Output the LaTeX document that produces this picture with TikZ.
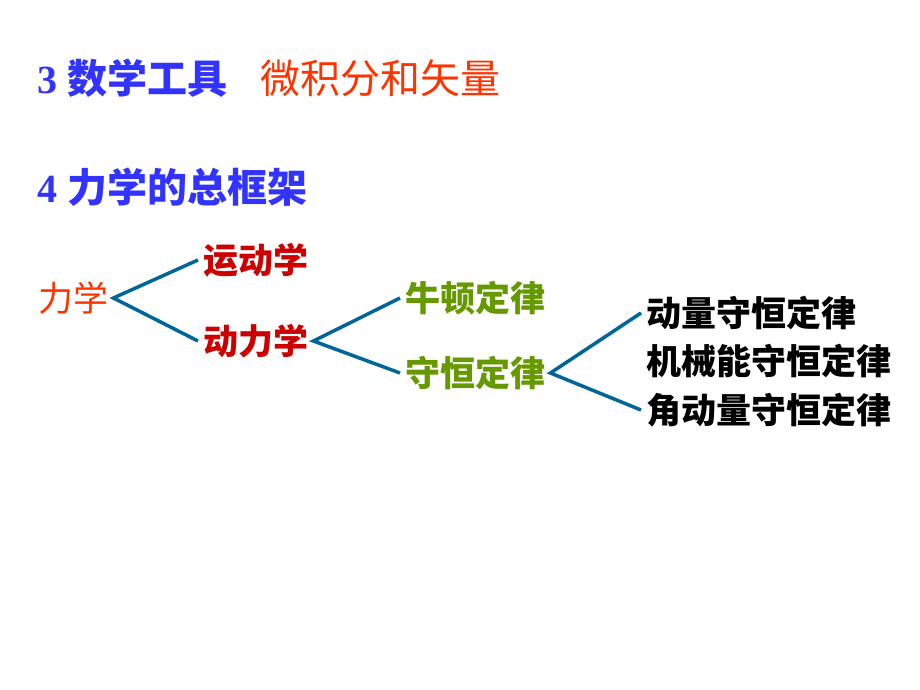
\documentclass[tikz,border=0pt]{standalone}
\usepackage{fontspec}
\setmainfont{Liberation Serif}
\newfontfamily\cjk{Noto Sans CJK SC}

\definecolor{titleblue}{RGB}{51,51,255}
\definecolor{calcred}{RGB}{255,51,0}
\definecolor{dynred}{RGB}{204,0,0}
\definecolor{lawgreen}{RGB}{102,153,0}
\definecolor{linkblue}{RGB}{0,102,153}

\begin{document}
\begin{tikzpicture}[x=1pt, y=-1pt]
    \tikzstyle{title_text} = [anchor=west, inner sep=0pt, font={\fontsize{40}{44}\selectfont}]
    \tikzstyle{tree_text} = [anchor=west, inner xsep=5pt, inner ysep=0pt, font={\fontsize{35}{40}\selectfont\cjk}]
    \tikzstyle{link_line} = [linkblue, line width=3.5pt]

    \useasboundingbox (0,0) rectangle (920,690);

    \node[title_text, titleblue] (tool) at (37,78) {\bfseries 3 {\cjk 数学工具}};
    \node[title_text, calcred] (calc) at (260,78) {\cjk 微积分和矢量};
    \node[title_text, titleblue] (frame) at (37,187) {\bfseries 4 {\cjk 力学的总框架}};

    % ---------------------------------------

    \node[tree_text, calcred] (mech) at (33,298) {力学};
    \node[tree_text, dynred] (kin) at (198,260) {\bfseries 运动学};
    \node[tree_text, dynred] (dyn) at (198,341) {\bfseries 动力学};

    \draw[link_line] (kin.west) -- (mech.east) -- (dyn.west);

    % ---------------------------------------

    \node[tree_text, lawgreen] (newton) at (400,298) {\bfseries 牛顿定律};
    \node[tree_text, lawgreen] (cons) at (400,373) {\bfseries 守恒定律};

    \draw[link_line] (newton.west) -- (dyn.east) -- (cons.west);

    % ---------------------------------------

    \node[tree_text, black] (mom) at (641,313) {\bfseries 动量守恒定律};
    \node[tree_text, black] (energy) at (641,361) {\bfseries 机械能守恒定律};
    \node[tree_text, black] (angmom) at (641,410) {\bfseries 角动量守恒定律};

    \draw[link_line] (mom.west) -- (cons.east) -- (angmom.west);

\end{tikzpicture}
\end{document}
